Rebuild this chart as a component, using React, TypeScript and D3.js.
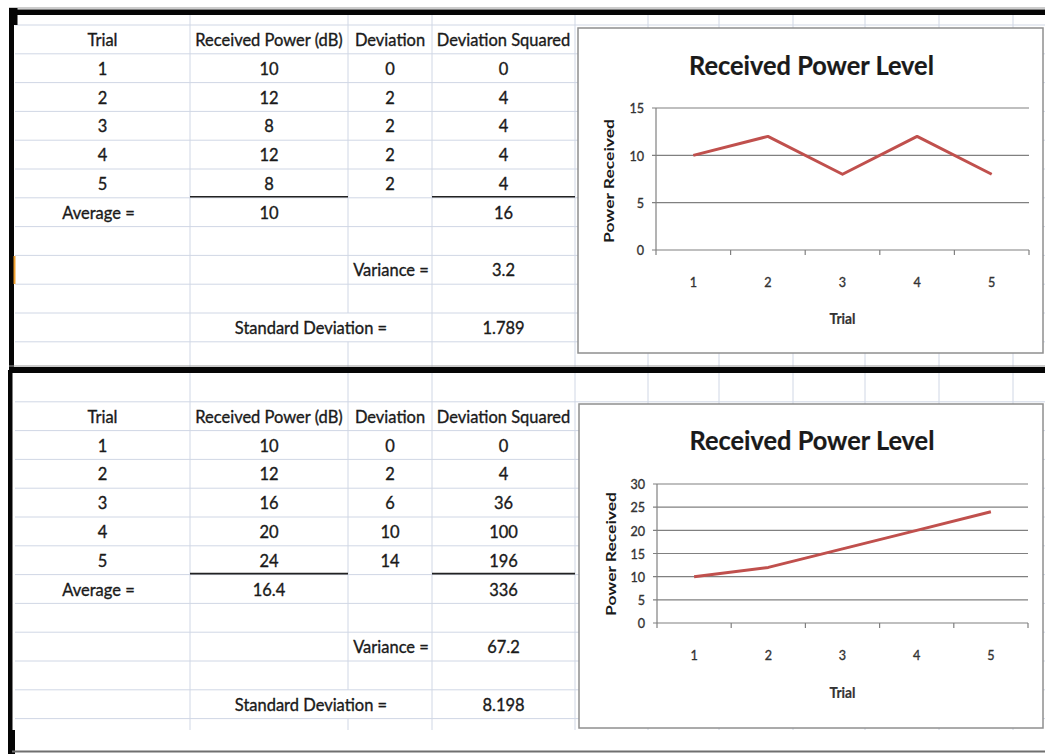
import React, { useEffect, useRef } from 'react';
import * as d3 from 'd3';

// ---- data ----
const headers = ['Trial', 'Received Power (dB)', 'Deviation', 'Deviation Squared'];
const trials = [1, 2, 3, 4, 5];

const powerTop = [10, 12, 8, 12, 8];
const deviationTop = [0, 2, 2, 2, 2];
const devSquaredTop = [0, 4, 4, 4, 4];
const statsTop = ['10', '16', '3.2', '1.789']; // average, sum of squares, variance, std dev

const powerBottom = [10, 12, 16, 20, 24];
const deviationBottom = [0, 2, 6, 10, 14];
const devSquaredBottom = [0, 4, 36, 100, 196];
const statsBottom = ['16.4', '336', '67.2', '8.198'];

const yTicksTop = [0, 5, 10, 15];
const yTicksBottom = [0, 5, 10, 15, 20, 25, 30];

const chartTitle = 'Received Power Level';
const xTitle = 'Trial';
const yTitle = 'Power Received';

// ---- styling / layout ----
const FONT = 'Lato, "Open Sans", "DejaVu Sans Condensed", sans-serif';
const SX = 0.97; // horizontal squeeze to get a Calibri-like narrow look
const W = 1045;
const H = 754;
const colEdges = [15, 190, 348, 432, 575, 648, 719, 793, 865, 939, 1013];
const ROW_H = 28.8;
const GRID = '#d0d7e5';
const LINE_RED = '#c0504d';
const AXIS_GRAY = '#808080';

function label(g, x, y, s, o = {}) {
  const fill = o.fill || '#1a1a1a';
  return g.append('text')
    .attr('transform', `translate(${x},${y}) scale(${o.sx ?? SX},1)`)
    .attr('text-anchor', o.anchor || 'middle')
    .attr('dominant-baseline', 'central')
    .style('font-family', FONT)
    .style('font-size', (o.size || 17) + 'px')
    .style('font-weight', o.bold ? 'bold' : 'normal')
    .style('fill', fill)
    .style('stroke', fill)
    .style('stroke-width', o.bold ? 0.2 : 0.35)
    .text(s);
}

function drawSheet(svg, sec) {
  const { gridTop, firstRow, gridBottom, power, deviation, devSquared, stats } = sec;
  const g = svg.append('g');
  const rowTop = i => firstRow + i * ROW_H;

  // horizontal cell lines
  d3.range(0, 13).map(rowTop).filter(y => y < gridBottom).forEach(y => {
    g.append('line')
      .attr('x1', 15).attr('x2', W)
      .attr('y1', y).attr('y2', y)
      .attr('stroke', GRID).attr('stroke-width', 1);
  });

  // vertical cell lines (B:C merged on the std dev row)
  colEdges.slice(1).forEach(x => {
    const spans = x === 348
      ? [[gridTop, rowTop(10)], [rowTop(11), gridBottom]]
      : [[gridTop, gridBottom]];
    spans.forEach(([a, b]) => {
      g.append('line').attr('x1', x).attr('x2', x).attr('y1', a).attr('y2', b).attr('stroke', GRID);
    });
  });

  const cx = [0, 1, 2, 3].map(i => (colEdges[i] + colEdges[i + 1]) / 2);
  const mid = i => rowTop(i) + ROW_H / 2;

  headers.forEach((h, i) => label(g, cx[i], mid(0), h));
  trials.forEach((t, i) => {
    label(g, cx[0], mid(i + 1), t);
    label(g, cx[1], mid(i + 1), power[i]);
    label(g, cx[2], mid(i + 1), deviation[i]);
    label(g, cx[3], mid(i + 1), devSquared[i]);
  });

  // underline below the 5th trial
  [[colEdges[1], colEdges[2]], [colEdges[3], colEdges[4]]].forEach(([a, b]) => {
    g.append('line')
      .attr('x1', a).attr('x2', b)
      .attr('y1', rowTop(6) - 1).attr('y2', rowTop(6) - 1)
      .attr('stroke', '#222').attr('stroke-width', 1.6);
  });

  label(g, cx[0] - 4, mid(6), 'Average =');
  label(g, cx[1], mid(6), stats[0]);
  label(g, cx[3], mid(6), stats[1]);
  label(g, cx[2] + 1, mid(8), 'Variance =');
  label(g, cx[3], mid(8), stats[2]);
  label(g, (colEdges[1] + colEdges[3]) / 2, mid(10), 'Standard Deviation =');
  label(g, cx[3], mid(10), stats[3]);
}

function drawChart(svg, c) {
  const g = svg.append('g');

  g.append('rect')
    .attr('x', c.box[0]).attr('y', c.box[1])
    .attr('width', c.box[2] - c.box[0]).attr('height', c.box[3] - c.box[1])
    .attr('fill', '#fff')
    .attr('stroke', '#8f8f8f').attr('stroke-width', 1.5);

  const x = d3.scaleBand().domain(trials).range(c.xRange).padding(0);
  const y = d3.scaleLinear().domain([0, d3.max(c.yTicks)]).range(c.yRange);

  // horizontal gridlines (with small ticks left of the axis)
  c.yTicks.forEach(t => {
    g.append('line')
      .attr('x1', c.xRange[0] - 4).attr('x2', c.xRange[1])
      .attr('y1', y(t)).attr('y2', y(t))
      .attr('stroke', AXIS_GRAY).attr('stroke-width', 1.2);
    label(g, c.xRange[0] - 12, y(t), t, { anchor: 'end', size: 14, fill: '#333', sx: 0.9 });
  });

  // value axis line
  g.append('line')
    .attr('x1', c.xRange[0]).attr('x2', c.xRange[0])
    .attr('y1', y(d3.max(c.yTicks))).attr('y2', y(0))
    .attr('stroke', AXIS_GRAY).attr('stroke-width', 1.2);

  // category ticks between categories
  const edges = trials.map(t => x(t)).concat([x(trials[trials.length - 1]) + x.bandwidth()]);
  edges.forEach(e => {
    g.append('line')
      .attr('x1', e).attr('x2', e)
      .attr('y1', y(0)).attr('y2', y(0) + 5)
      .attr('stroke', AXIS_GRAY).attr('stroke-width', 1.2);
  });

  trials.forEach(t => {
    label(g, x(t) + x.bandwidth() / 2, c.tickY, t, { size: 14, fill: '#333', sx: 0.9 });
  });

  const line = d3.line()
    .x((d, i) => x(trials[i]) + x.bandwidth() / 2)
    .y(d => y(d));

  g.append('path')
    .datum(c.values)
    .attr('fill', 'none')
    .attr('stroke', LINE_RED)
    .attr('stroke-width', 3)
    .attr('stroke-linejoin', 'round')
    .attr('d', line);

  label(g, (c.box[0] + c.box[2]) / 2 + 1, c.titleY, chartTitle, { size: 27, bold: true, sx: 0.94 });
  label(g, (c.xRange[0] + c.xRange[1]) / 2, c.xTitleY, xTitle, { size: 15, bold: true, fill: '#333', sx: 0.92 });

  g.append('text')
    .attr('transform', `translate(${c.yTitleX},${c.yTitleY}) rotate(-90)`)
    .attr('text-anchor', 'middle')
    .attr('dominant-baseline', 'central')
    .attr('textLength', 124)
    .attr('lengthAdjust', 'spacingAndGlyphs')
    .style('font-family', FONT)
    .style('font-size', '14px')
    .style('font-weight', 'bold')
    .style('fill', '#1a1a1a')
    .text(yTitle);
}

export default function App() {
  const svgRef = useRef(null);

  useEffect(() => {
    const svg = d3.select(svgRef.current);
    svg.selectAll('*').remove();

    svg.append('rect').attr('width', W).attr('height', H).attr('fill', '#fff');

    drawSheet(svg, {
      gridTop: 15, firstRow: 25, gridBottom: 367,
      power: powerTop, deviation: deviationTop, devSquared: devSquaredTop, stats: statsTop,
    });
    drawSheet(svg, {
      gridTop: 373, firstRow: 401.8, gridBottom: 730,
      power: powerBottom, deviation: deviationBottom, devSquared: devSquaredBottom, stats: statsBottom,
    });

    drawChart(svg, {
      box: [578, 28, 1043, 353], xRange: [656, 1029], yRange: [250, 108],
      values: powerTop, yTicks: yTicksTop,
      titleY: 65, tickY: 282, xTitleY: 318, yTitleX: 608, yTitleY: 181,
    });
    drawChart(svg, {
      box: [579, 404, 1043, 728], xRange: [657, 1028], yRange: [623, 484],
      values: powerBottom, yTicks: yTicksBottom,
      titleY: 440, tickY: 655, xTitleY: 692, yTitleX: 610, yTitleY: 554,
    });

    // frame: thick black borders of the pasted screenshots
    const black = '#050505';
    svg.append('line').attr('x1', 9).attr('x2', W).attr('y1', 8).attr('y2', 8).attr('stroke', '#999');
    svg.append('rect').attr('x', 9).attr('y', 9.5).attr('width', W - 9).attr('height', 5.5).attr('fill', black);
    svg.append('rect').attr('x', 9).attr('y', 8).attr('width', 8.5).attr('height', 17).attr('fill', black);
    svg.append('rect').attr('x', 9).attr('y', 8).attr('width', 5).attr('height', 362).attr('fill', black);
    svg.append('line').attr('x1', 9).attr('x2', W).attr('y1', 366).attr('y2', 366).attr('stroke', '#999');
    svg.append('rect').attr('x', 9).attr('y', 367).attr('width', W - 9).attr('height', 6).attr('fill', black);
    svg.append('rect').attr('x', 8).attr('y', 370).attr('width', 4.5).attr('height', H - 370).attr('fill', black);
    svg.append('rect').attr('x', 9).attr('y', 730).attr('width', 6).attr('height', H - 730).attr('fill', black);
    svg.append('line').attr('x1', 12).attr('x2', W).attr('y1', 751.5).attr('y2', 751.5)
      .attr('stroke', '#6f6f6f').attr('stroke-width', 2);
    // selected-row marker
    svg.append('line').attr('x1', 14.5).attr('x2', 14.5).attr('y1', 256).attr('y2', 284)
      .attr('stroke', '#f0a030').attr('stroke-width', 2);
  }, []);

  return (
    <svg
      ref={svgRef}
      width={W}
      height={H}
      style={{ position: 'absolute', left: 0, top: 0, display: 'block' }}
    />
  );
}
